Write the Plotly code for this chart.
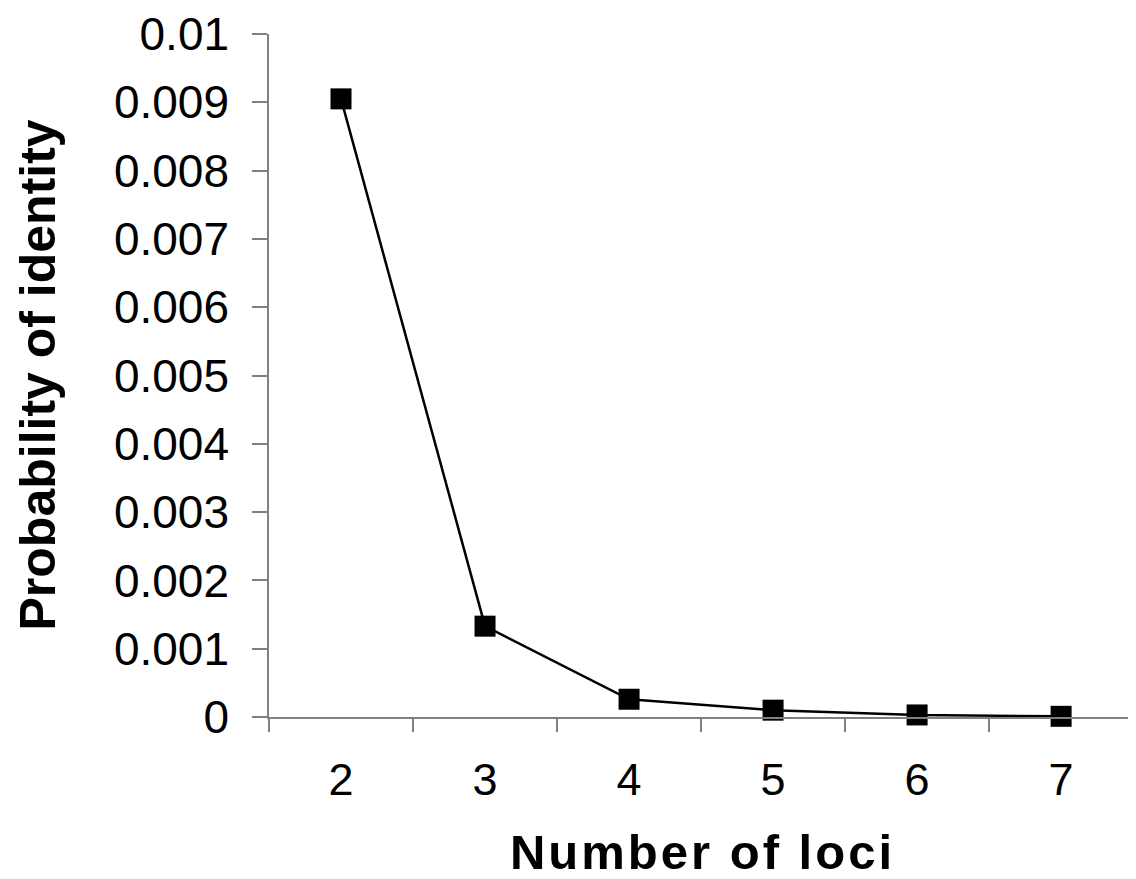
import plotly.graph_objects as go

loci = ["2", "3", "4", "5", "6", "7"]
prob_identity = [0.00905, 0.00133, 0.00026, 0.00010, 0.00003, 0.00001]
ytick_vals = [0, 0.001, 0.002, 0.003, 0.004, 0.005, 0.006, 0.007, 0.008, 0.009, 0.01]
ytick_text = ["0", "0.001", "0.002", "0.003", "0.004", "0.005", "0.006", "0.007", "0.008", "0.009", "0.01"]

FONT = "Liberation Sans, Arial, sans-serif"
AXIS = "#808080"

fig = go.Figure(
    go.Scatter(
        x=loci,
        y=prob_identity,
        mode="lines+markers",
        line=dict(color="black", width=2.5),
        marker=dict(symbol="square", size=21, color="black"),
        cliponaxis=False,
    )
)

fig.update_layout(
    width=1128,
    height=871,
    margin=dict(l=261, r=0, t=19, b=162),
    paper_bgcolor="white",
    plot_bgcolor="white",
    showlegend=False,
    font=dict(family=FONT, color="black"),
)

fig.add_annotation(
    text="<b>Probability of identity</b>",
    xref="paper", yref="paper",
    x=0, y=0.5,
    xanchor="left", yanchor="middle",
    xshift=-261,
    textangle=-90,
    showarrow=False,
    borderpad=0,
    font=dict(size=50, family=FONT, color="black"),
)

fig.update_xaxes(
    type="category",
    range=[-0.5, 5.52],
    tickson="boundaries",
    ticks="outside",
    ticklen=13,
    tickwidth=1.5,
    tickcolor=AXIS,
    showline=True,
    linecolor=AXIS,
    linewidth=1.5,
    showgrid=False,
    zeroline=False,
    tickfont=dict(size=45, family=FONT, color="black"),
    ticklabelstandoff=22,
    title=dict(
        text='<span style="letter-spacing:3px"><b>Number of loci</b></span>',
        font=dict(size=49, family=FONT, color="black"),
        standoff=37,
    ),
)

fig.update_yaxes(
    range=[0, 0.01],
    tickvals=ytick_vals,
    ticktext=ytick_text,
    ticks="outside",
    ticklen=15,
    tickwidth=1.5,
    tickcolor=AXIS,
    showline=True,
    linecolor=AXIS,
    linewidth=1.5,
    showgrid=False,
    zeroline=False,
    tickfont=dict(size=46, family=FONT, color="black"),
    ticklabelstandoff=14,
    ticklabeloverflow="allow",
)

fig.write_html("out.html")
